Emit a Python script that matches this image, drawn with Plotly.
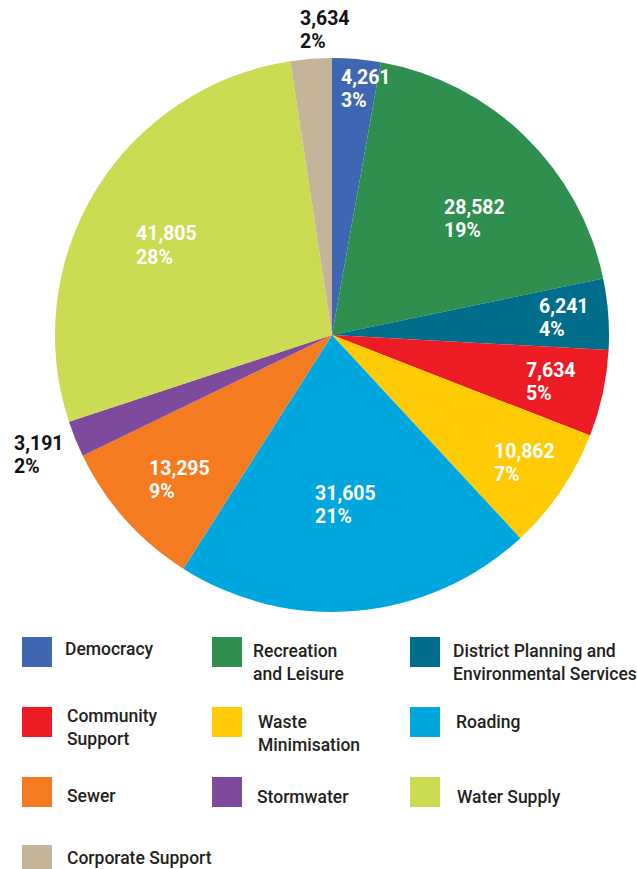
import math
import plotly.graph_objects as go

# ---- data ----
categories = ["Democracy", "Recreation and Leisure", "District Planning and Environmental Services",
              "Community Support", "Waste Minimisation", "Roading", "Sewer", "Stormwater",
              "Water Supply", "Corporate Support"]
values = [4261, 28582, 6241, 7634, 10862, 31605, 13295, 3191, 41805, 3634]
legend_labels = ["Democracy", "Recreation<br>and Leisure", "District Planning and<br>Environmental Services",
                 "Community<br>Support", "Waste<br>Minimisation", "Roading", "Sewer", "Stormwater",
                 "Water Supply", "Corporate Support"]
colors = ["#3f67b1", "#2e8f4f", "#006e8a", "#ed1c24", "#ffcb05", "#00a6de",
          "#f47b20", "#7e4a9c", "#cbdb52", "#c4b59a"]

# ---- layout constants ----
W, H = 637, 869
CX, CY, R = 332, 335, 277
label_radius = [0.896, 0.659, 0.834, 0.803, 0.830, 0.615, 0.764, 1.149, 0.684, 1.101]
label_angle_shift = [2.6, 6.4, 0.1, 0.0, -0.4, 1.2, -1.6, -0.1, -3.3, 2.7]
outside = [False] * 7 + [True] + [False] + [True]
FS = 19.5
LINE_GAP = 23.5

fig = go.Figure(go.Pie(
    labels=categories, values=values, sort=False, direction="clockwise", rotation=0,
    marker=dict(colors=colors, line=dict(width=0)), textinfo="none",
    domain=dict(x=[(CX - R) / W, (CX + R) / W], y=[1 - (CY + R) / H, 1 - (CY - R) / H]),
    showlegend=False, hoverinfo="label+value+percent",
))

total = sum(values)
cum = 0
annotations = []
for i, v in enumerate(values):
    mid = (cum + v / 2) / total * 2 * math.pi + math.radians(label_angle_shift[i])
    cum += v
    rr = R * label_radius[i]
    px = CX + rr * math.sin(mid)
    py = CY - rr * math.cos(mid)
    pct = round(v / total * 100)
    vtxt = f"{v:,}"
    est_w = sum(0.57 * FS if ch.isdigit() else 0.25 * FS for ch in vtxt)
    left = px - est_w / 2
    col = "#111111" if outside[i] else "#ffffff"
    for txt, yy in ((vtxt, py - LINE_GAP / 2), (f"{pct}%", py + LINE_GAP / 2)):
        annotations.append(dict(
            x=left / W, y=1 - yy / H, xref="paper", yref="paper", showarrow=False,
            text=txt, align="left", xanchor="left", yanchor="middle",
            borderpad=0,
            font=dict(family="Roboto", size=FS, weight="bold", color=col),
        ))

# ---- custom legend ----
sq_x = [22, 212, 410]
txt_x = [[63, 251, 451], [65, 256, 454], [65, 255, 455], [65]]
sq_y = [637, 707, 777, 845]
txt_line1 = [[649, 651, 651], [716, 722, 722], [796, 797, 797], [858]]
shapes = []
for i, lab in enumerate(legend_labels):
    row, c = divmod(i, 3)
    y0 = sq_y[row]
    shapes.append(dict(type="rect", xref="paper", yref="paper",
                       x0=sq_x[c] / W, x1=(sq_x[c] + 30) / W,
                       y0=1 - (y0 + 30) / H, y1=1 - y0 / H,
                       fillcolor=colors[i], line=dict(width=0)))
    top = txt_line1[row][c] - 12
    annotations.append(dict(
        x=txt_x[row][c] / W, y=1 - top / H, xref="paper", yref="paper", showarrow=False,
        text=lab, align="left", xanchor="left", yanchor="top",
        font=dict(family="Roboto", size=17.5, weight=500, color="#231f20"),
    ))

fig.update_layout(width=W, height=H, margin=dict(l=0, r=0, t=0, b=0),
                  paper_bgcolor="white", plot_bgcolor="white",
                  annotations=annotations, shapes=shapes)
fig.write_html("out.html", config={"displayModeBar": False},
               post_script="document.body.style.margin='0';")
